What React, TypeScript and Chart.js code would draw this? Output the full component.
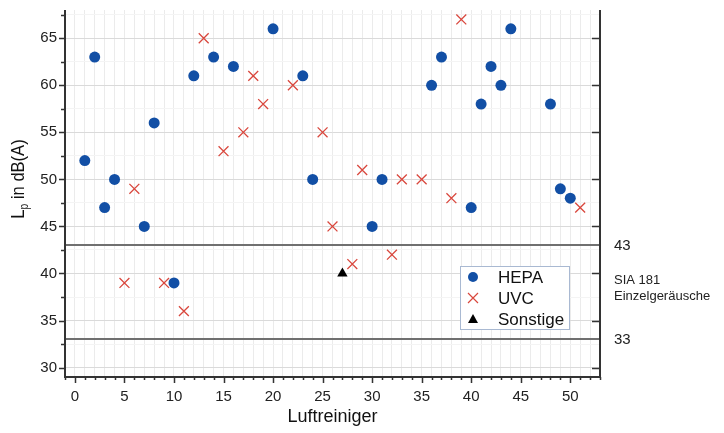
import { useEffect, useRef } from 'react';
import { Chart, registerables } from 'chart.js';

Chart.register(...registerables);

// HEPA series
const hepaX = [1, 2, 3, 4, 7, 8, 10, 12, 14, 16, 20, 23, 24, 30, 31, 36, 37, 40, 41, 42, 43, 44, 48, 49, 50];
const hepaY = [52, 63, 47, 50, 45, 56, 39, 61, 63, 62, 66, 61, 50, 45, 50, 60, 63, 47, 58, 62, 60, 66, 58, 49, 48];
// UVC series
const uvcX = [5, 6, 9, 11, 13, 15, 17, 18, 19, 22, 25, 26, 28, 29, 32, 33, 35, 38, 39, 51];
const uvcY = [39, 49, 39, 36, 65, 53, 55, 61, 58, 60, 55, 45, 41, 51, 42, 50, 50, 48, 67, 47];
// Sonstige series
const otherX = [27];
const otherY = [40];

// SIA 181 limits
const limitValues = [43, 33];
const limitLabels = ['43', '33'];
const limitTitle = ['SIA 181', 'Einzelgeräusche'];

const seriesNames = ['HEPA', 'UVC', 'Sonstige'];
const xTitle = 'Luftreiniger';

const BLUE = '#124fa5';
const RED = '#d9473d';
const BLACK = '#000000';
const FONT = '"Liberation Sans", Arial, sans-serif';

const zeroPad = (s: any) => {
  s.paddingTop = 0;
  s.paddingBottom = 0;
  s.paddingLeft = 0;
  s.paddingRight = 0;
};

const customPlugin = {
  id: 'custom',
  beforeDatasetsDraw(chart: any) {
    const { ctx, chartArea } = chart;
    const y = chart.scales.y;
    ctx.save();
    ctx.strokeStyle = '#707070';
    ctx.lineWidth = 2;
    limitValues.forEach((v) => {
      const py = Math.round(y.getPixelForValue(v));
      ctx.beginPath();
      ctx.moveTo(chartArea.left, py);
      ctx.lineTo(chartArea.right, py);
      ctx.stroke();
    });
    ctx.restore();
  },
  afterDraw(chart: any) {
    const { ctx, chartArea } = chart;
    const xs = chart.scales.x;
    const ys = chart.scales.y;
    const { left, right, top, bottom } = chartArea;
    ctx.save();
    // axes lines
    ctx.strokeStyle = '#333333';
    ctx.lineWidth = 2;
    ctx.beginPath();
    ctx.moveTo(left, top);
    ctx.lineTo(left, bottom);
    ctx.lineTo(right, bottom);
    ctx.lineTo(right, top);
    ctx.stroke();
    // ticks
    ctx.lineWidth = 1.5;
    ctx.beginPath();
    for (let v = Math.ceil(xs.min); v <= Math.floor(xs.max); v++) {
      const px = Math.round(xs.getPixelForValue(v)) + 0.5;
      const len = v % 5 === 0 ? 6 : 3;
      ctx.moveTo(px, bottom);
      ctx.lineTo(px, bottom + len);
    }
    for (let v = 30; v <= ys.max; v += 2.5) {
      const py = Math.round(ys.getPixelForValue(v)) + 0.5;
      const len = v % 5 === 0 ? 6 : 4;
      ctx.moveTo(left, py);
      ctx.lineTo(left - len, py);
      if (v % 5 === 0) {
        ctx.moveTo(right, py);
        ctx.lineTo(right - 8, py);
      }
    }
    ctx.stroke();

    // right annotations
    ctx.fillStyle = '#222';
    ctx.textAlign = 'left';
    ctx.textBaseline = 'middle';
    ctx.font = `15px ${FONT}`;
    limitValues.forEach((v, i) => {
      ctx.fillText(limitLabels[i], right + 14, ys.getPixelForValue(v) + 1);
    });
    const mid = ys.getPixelForValue((limitValues[0] + limitValues[1]) / 2);
    ctx.font = `13px ${FONT}`;
    ctx.fillText(limitTitle[0], right + 14, mid - 12);
    ctx.fillText(limitTitle[1], right + 14, mid + 4);

    // legend
    const lx = right - 140;
    const ly = top + 256;
    const lw = 109;
    const lh = 63;
    ctx.fillStyle = '#ffffff';
    ctx.fillRect(lx, ly, lw, lh);
    ctx.strokeStyle = '#a9b9d2';
    ctx.lineWidth = 1;
    ctx.strokeRect(lx + 0.5, ly + 0.5, lw, lh);
    const rows = [ly + 11, ly + 32, ly + 53];
    const mx = lx + 13;
    // HEPA marker
    ctx.fillStyle = BLUE;
    ctx.beginPath();
    ctx.arc(mx, rows[0], 5, 0, Math.PI * 2);
    ctx.fill();
    // UVC marker
    ctx.strokeStyle = RED;
    ctx.lineWidth = 1.2;
    ctx.beginPath();
    ctx.moveTo(mx - 5, rows[1] - 5);
    ctx.lineTo(mx + 5, rows[1] + 5);
    ctx.moveTo(mx + 5, rows[1] - 5);
    ctx.lineTo(mx - 5, rows[1] + 5);
    ctx.stroke();
    // Sonstige marker
    ctx.fillStyle = BLACK;
    ctx.beginPath();
    ctx.moveTo(mx, rows[2] - 5);
    ctx.lineTo(mx + 5, rows[2] + 4);
    ctx.lineTo(mx - 5, rows[2] + 4);
    ctx.closePath();
    ctx.fill();
    ctx.fillStyle = '#111';
    ctx.font = `17px ${FONT}`;
    ctx.textBaseline = 'middle';
    seriesNames.forEach((n, i) => ctx.fillText(n, lx + 38, rows[i] + 1));

    // x title
    ctx.textAlign = 'center';
    ctx.textBaseline = 'alphabetic';
    ctx.font = `18px ${FONT}`;
    ctx.fillText(xTitle, (left + right) / 2, 422);

    // y title with subscript
    ctx.translate(24, 179);
    ctx.rotate(-Math.PI / 2);
    ctx.scale(0.87, 1);
    ctx.textAlign = 'left';
    const big = `19px ${FONT}`;
    const small = `12px ${FONT}`;
    ctx.font = big;
    const wL = ctx.measureText('L').width;
    const wRest = ctx.measureText(' in dB(A)').width;
    ctx.font = small;
    const wP = ctx.measureText('p').width;
    const total = wL + wP + wRest;
    let cx = -total / 2;
    ctx.font = big;
    ctx.fillText('L', cx, 0);
    cx += wL;
    ctx.font = small;
    ctx.fillText('p', cx, 4);
    cx += wP;
    ctx.font = big;
    ctx.fillText(' in dB(A)', cx, 0);
    ctx.restore();
  },
};

export default function App() {
  const ref = useRef<HTMLCanvasElement>(null);
  useEffect(() => {
    document.body.style.margin = '0';
    const chart = new Chart(ref.current as HTMLCanvasElement, {
      type: 'scatter',
      data: {
        datasets: [
          {
            label: seriesNames[0],
            data: hepaX.map((x, i) => ({ x, y: hepaY[i] })),
            pointStyle: 'circle',
            pointRadius: 5.5,
            backgroundColor: BLUE,
            borderColor: BLUE,
            borderWidth: 0,
          },
          {
            label: seriesNames[1],
            data: uvcX.map((x, i) => ({ x, y: uvcY[i] })),
            pointStyle: 'crossRot',
            pointRadius: 7,
            backgroundColor: RED,
            borderColor: RED,
            borderWidth: 1.3,
          },
          {
            label: seriesNames[2],
            data: otherX.map((x, i) => ({ x, y: otherY[i] })),
            pointStyle: 'triangle',
            pointRadius: 6,
            backgroundColor: BLACK,
            borderColor: BLACK,
            borderWidth: 0,
          },
        ],
      },
      options: {
        responsive: false,
        animation: false,
        devicePixelRatio: 1,
        layout: { padding: { top: 10, left: 0, right: 0, bottom: 0 } },
        plugins: { legend: { display: false }, tooltip: { enabled: false } },
        scales: {
          x: {
            type: 'linear',
            position: 'bottom',
            min: -1,
            max: 53,
            afterFit: (s: any) => {
              s.height = 56;
              zeroPad(s);
            },
            ticks: {
              stepSize: 1,
              autoSkip: false,
              maxRotation: 0,
              includeBounds: false,
              padding: 11,
              color: '#222',
              font: { family: FONT, size: 15 },
              callback: (v: any) => (Number(v) % 5 === 0 && v >= 0 && v <= 50 ? String(v) : ''),
            },
            grid: { drawTicks: false, color: '#ebebeb', lineWidth: 1 },
            border: { display: false },
          },
          y: {
            type: 'linear',
            position: 'left',
            min: 29,
            max: 68,
            afterFit: (s: any) => {
              s.width = 65;
              zeroPad(s);
            },
            ticks: {
              stepSize: 2.5,
              autoSkip: false,
              includeBounds: false,
              padding: 8,
              color: '#222',
              font: { family: FONT, size: 15 },
              callback: (v: any) => (Number(v) % 5 === 0 ? String(v) : ''),
            },
            grid: {
              drawTicks: false,
              color: (c: any) => (c.tick && c.tick.value % 5 === 0 ? '#dadada' : '#f4f4f4'),
              lineWidth: 1,
            },
            border: { display: false },
          },
          y2: {
            type: 'linear',
            position: 'right',
            min: 29,
            max: 68,
            afterFit: (s: any) => {
              s.width = 124;
              zeroPad(s);
            },
            ticks: { display: false },
            grid: { display: false, drawTicks: false },
            border: { display: false },
          },
        },
      },
      plugins: [customPlugin],
    } as any);
    return () => chart.destroy();
  }, []);
  return (
    <div style={{ width: 724, height: 433 }}>
      <canvas ref={ref} width={724} height={433} style={{ display: 'block' }} />
    </div>
  );
}
